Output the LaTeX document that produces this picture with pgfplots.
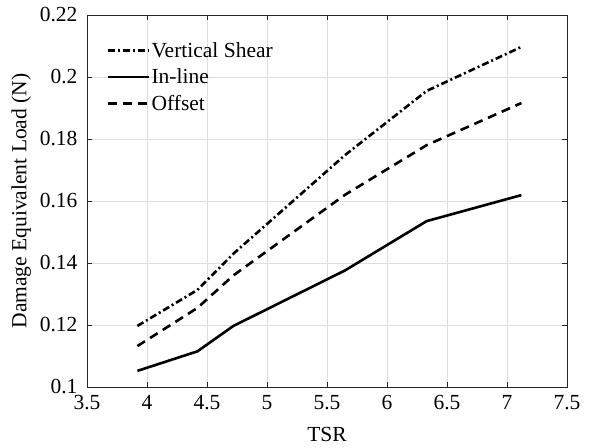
\documentclass[border=0pt]{standalone}
\usepackage{fontspec}
\setmainfont{Liberation Serif}
\usepackage{pgfplots}
\pgfplotsset{compat=1.18}
\begin{document}
\begin{tikzpicture}
\begin{axis}[
  scale only axis,
  width=480bp, height=372bp,
  xmin=3.5, xmax=7.5, ymin=0.1, ymax=0.22,
  xtick={3.5,4,...,7.5},
  ytick={0.1,0.12,0.14,0.16,0.18,0.2,0.22},
  /pgf/number format/assume math mode=true,
  /pgf/number format/fixed,
  /pgf/number format/precision=2,
  font=\fontsize{21.5bp}{25bp}\selectfont,
  tick label style={font=\fontsize{21.5bp}{25bp}\selectfont},
  label style={font=\fontsize{21.5bp}{25bp}\selectfont},
  xlabel={TSR},
  ylabel={Damage Equivalent Load (N)},
  xlabel style={yshift=-10bp},
  ylabel style={yshift=2bp},
  grid=major,
  major grid style={draw=black!13, line width=0.6bp},
  axis line style={draw=black!85, line width=0.8bp},
  tick style={draw=black!85, line width=0.8bp},
  tick align=inside,
  major tick length=5bp,
  xticklabel style={yshift=-5bp},
  yticklabel style={xshift=-6bp},
  legend style={at={(0.035,0.935)}, anchor=north west, draw=none, fill=none,
    font=\fontsize{21.5bp}{25bp}\selectfont, row sep=8bp,
    nodes={inner sep=1bp}},
  legend cell align=left,
  legend image code/.code={\draw[#1] (0bp,0bp) -- (41bp,0bp);},
]
\addplot[black, line width=2.6bp, dash pattern=on 7bp off 3bp on 2bp off 3bp] coordinates {
 (3.92,0.1197) (4.42,0.1313) (4.72,0.1430) (5.65,0.1748) (6.33,0.1955) (7.12,0.2097)};
\addlegendentry{Vertical Shear}
\addplot[black, line width=2.6bp] coordinates {
 (3.92,0.1052) (4.42,0.1115) (4.72,0.1197) (5.65,0.1376) (6.33,0.1535) (7.12,0.1619)};
\addlegendentry{In-line}
\addplot[black, line width=2.6bp, dash pattern=on 9bp off 6bp] coordinates {
 (3.92,0.1132) (4.42,0.1255) (4.72,0.1360) (5.65,0.1620) (6.33,0.1780) (7.12,0.1916)};
\addlegendentry{Offset}
\end{axis}
\path[use as bounding box] ([xshift=-87bp,yshift=-61bp]current axis.south west) rectangle ([xshift=24bp,yshift=15bp]current axis.north east);
\end{tikzpicture}
\end{document}
